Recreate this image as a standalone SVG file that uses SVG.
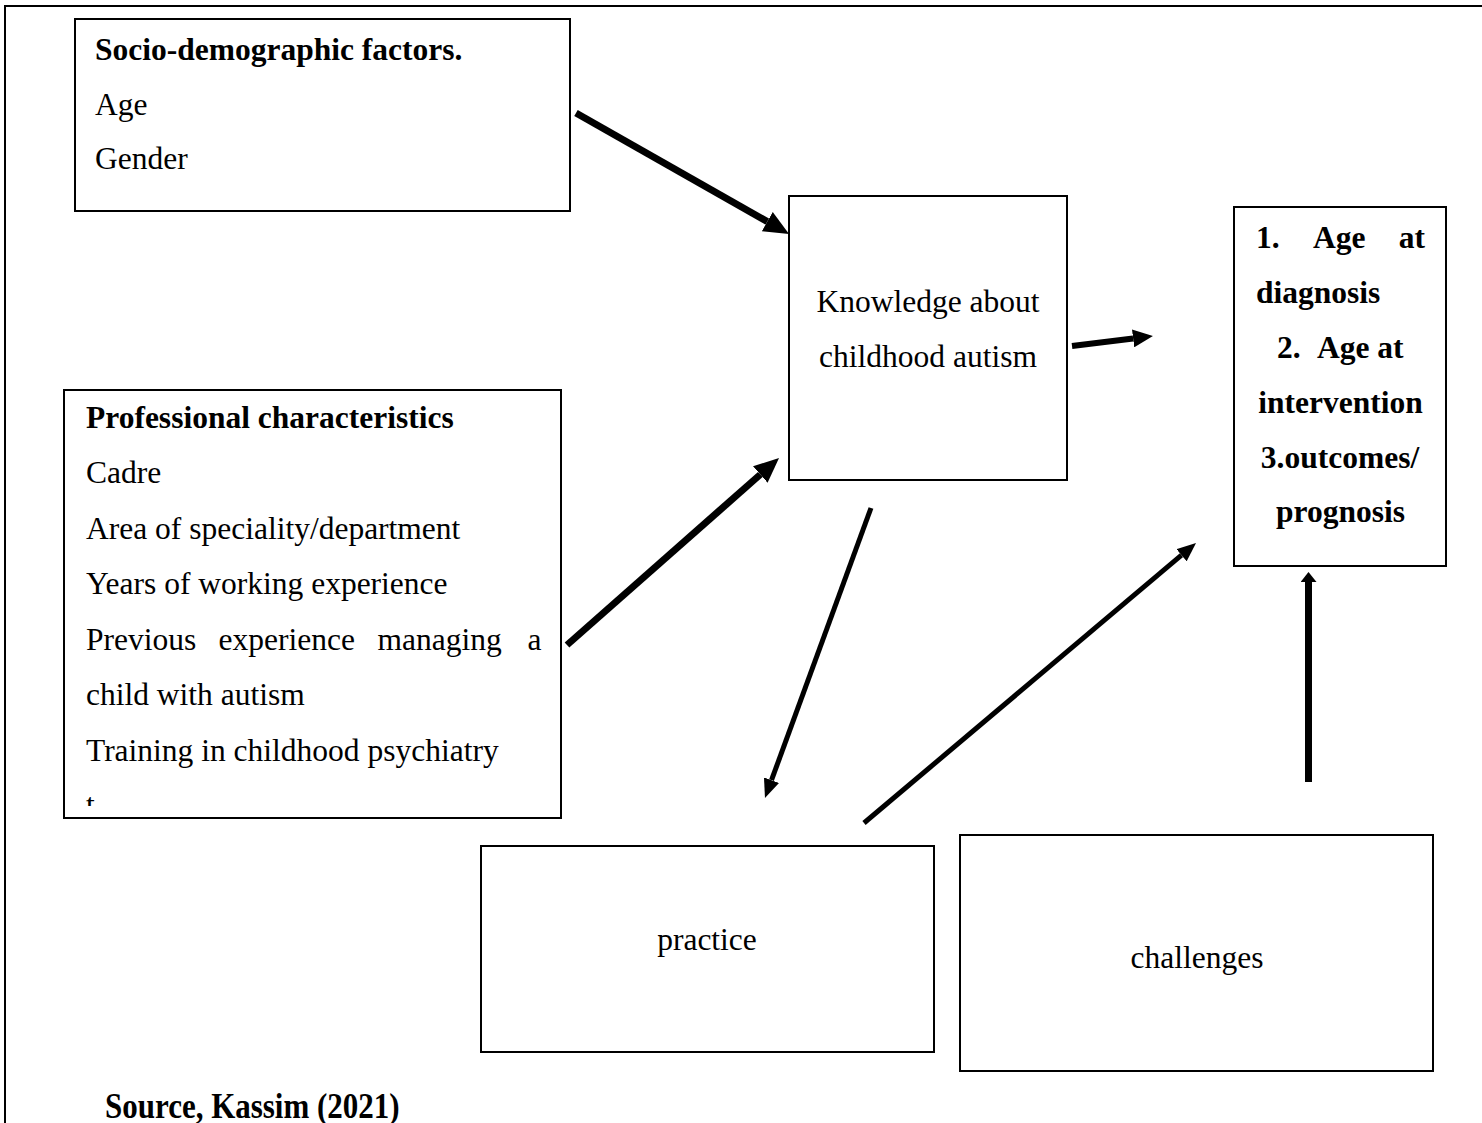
<svg xmlns="http://www.w3.org/2000/svg" width="1482" height="1123" viewBox="0 0 1482 1123">
<style>
.box{fill:#fff;stroke:#000;stroke-width:2}
.t{font-family:"Liberation Serif","Times New Roman",serif;font-size:31.5px;fill:#000}
.b{font-weight:bold}
.m{text-anchor:middle}
.e{text-anchor:end}
.c{stroke:#000;fill:none;stroke-linecap:butt}
</style>
<defs>
<marker id="hL" markerUnits="userSpaceOnUse" markerWidth="25" markerHeight="22" refX="0" refY="11" orient="auto" viewBox="0 0 25 22"><path d="M0,0 L25,11 L0,22 z" fill="#000"/></marker>
<marker id="hM" markerUnits="userSpaceOnUse" markerWidth="20" markerHeight="18" refX="0" refY="9" orient="auto" viewBox="0 0 20 18"><path d="M0,0 L20,9 L0,18 z" fill="#000"/></marker>
<marker id="hS" markerUnits="userSpaceOnUse" markerWidth="19" markerHeight="16" refX="0" refY="8" orient="auto" viewBox="0 0 19 16"><path d="M0,0 L19,8 L0,16 z" fill="#000"/></marker>
<marker id="hV" markerUnits="userSpaceOnUse" markerWidth="10" markerHeight="16" refX="0" refY="8" orient="auto" viewBox="0 0 10 16"><path d="M0,0 L10,8 L0,16 z" fill="#000"/></marker>
<clipPath id="profClip"><rect x="64" y="390" width="497" height="416"/></clipPath>
</defs>
<rect x="5" y="6" width="1500" height="1200" fill="none" stroke="#000" stroke-width="2"/>

<g id="socio">
<rect class="box" x="75" y="19" width="495" height="192"/>
<text class="t b" x="95" y="60">Socio-demographic factors.</text>
<text class="t" x="95" y="115">Age</text>
<text class="t" x="95" y="169">Gender</text>
</g>

<g id="professional">
<rect class="box" x="64" y="390" width="497" height="428"/>
<g clip-path="url(#profClip)">
<text class="t b" x="86" y="428">Professional characteristics</text>
<text class="t" x="86" y="483">Cadre</text>
<text class="t" x="86" y="538.5">Area of speciality/department</text>
<text class="t" x="86" y="594">Years of working experience</text>
<text class="t" y="649.5"><tspan x="86">Previous</tspan><tspan x="218.5">experience</tspan><tspan x="377.5">managing</tspan><tspan x="527.5">a</tspan></text>
<text class="t" x="86" y="705">child with autism</text>
<text class="t" x="86" y="760.5">Training in childhood psychiatry</text>
<text class="t" x="86" y="815">t</text>
</g>
</g>

<g id="knowledge">
<rect class="box" x="789" y="196" width="278" height="284"/>
<text class="t m" x="928" y="312">Knowledge about</text>
<text class="t m" x="928" y="367">childhood autism</text>
</g>

<g id="outcomes">
<rect class="box" x="1234" y="207" width="212" height="359"/>
<text class="t b" y="248"><tspan x="1256">1.</tspan><tspan x="1313">Age</tspan></text>
<text class="t b e" x="1425" y="248">at</text>
<text class="t b" x="1256" y="303">diagnosis</text>
<text class="t b" y="358"><tspan x="1277">2.</tspan><tspan x="1317">Age at</tspan></text>
<text class="t b m" x="1340.5" y="413">intervention</text>
<text class="t b m" x="1340" y="468">3.outcomes/</text>
<text class="t b m" x="1340.5" y="522">prognosis</text>
</g>

<g id="practice">
<rect class="box" x="481" y="846" width="453" height="206"/>
<text class="t m" x="707" y="950">practice</text>
</g>

<g id="challenges">
<rect class="box" x="960" y="835" width="473" height="236"/>
<text class="t m" x="1197" y="968">challenges</text>
</g>

<g id="source">
<text class="t b" transform="translate(105 1118) scale(1 1.18)" x="0" y="0" style="font-size:31px">Source, Kassim (2021)</text>
</g>

<g id="connectors">
<line class="c" x1="576" y1="113" x2="767.3" y2="221.6" stroke-width="7" marker-end="url(#hL)"/>
<line class="c" x1="567" y1="645" x2="760.3" y2="474.5" stroke-width="7" marker-end="url(#hL)"/>
<line class="c" x1="1072" y1="346" x2="1133.1" y2="338.4" stroke-width="6" marker-end="url(#hM)"/>
<line class="c" x1="871" y1="508" x2="771.5" y2="780.2" stroke-width="5" marker-end="url(#hS)"/>
<line class="c" x1="864" y1="823" x2="1181.5" y2="555.2" stroke-width="5" marker-end="url(#hS)"/>
<line class="c" x1="1308.5" y1="782" x2="1308.5" y2="582" stroke-width="7" marker-end="url(#hV)"/>
</g>
</svg>
